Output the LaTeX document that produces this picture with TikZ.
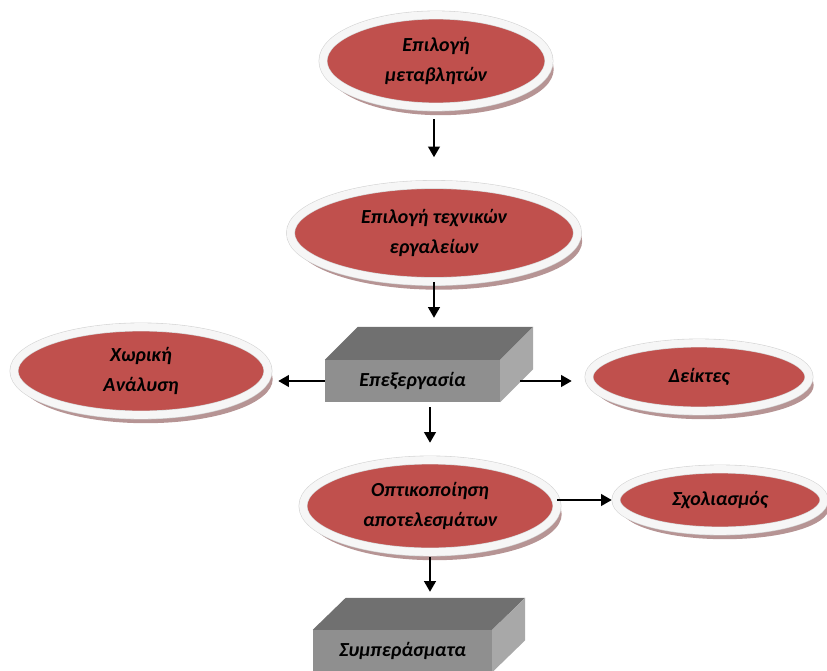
\documentclass[tikz,border=0pt]{standalone}
\usepackage{fontspec}
\setmainfont{Carlito}
\usetikzlibrary{shapes.geometric,arrows.meta,shadows}
\definecolor{ellred}{RGB}{192,80,77}
\definecolor{shadowc}{RGB}{182,148,148}
\definecolor{rimc}{RGB}{246,246,246}
\definecolor{rimedge}{RGB}{212,212,212}
\definecolor{topg}{RGB}{112,112,112}
\definecolor{frontg}{RGB}{143,143,143}
\definecolor{sideg}{RGB}{168,168,168}
\tikzset{
  ell/.style={ellipse, inner sep=0pt, fill=ellred, draw=rimedge, line width=0.5pt,
    double=rimc, double distance=6.5pt,
    drop shadow={shadow xshift=4pt, shadow yshift=-7pt, fill=shadowc, opacity=1},
    font=\fontsize{17}{25.5}\selectfont\bfseries\itshape, align=center},
  frontface/.style={rectangle, inner sep=0pt, fill=frontg,
    font=\fontsize{17}{24}\selectfont\bfseries\itshape},
  arr/.style={line width=1.4pt, -{Triangle[length=9pt,width=10pt]}}
}
\begin{document}
\begin{tikzpicture}[x=0.03cm,y=-0.03cm]
\useasboundingbox (0,0) rectangle (827,671);
% ellipses
\node[ell, minimum width=6.78cm, minimum height=2.76cm] (e1) at (436,61) {Επιλογή\\μεταβλητών};
\node[ell, minimum width=8.61cm, minimum height=2.91cm] (e2) at (434,233) {Επιλογή τεχνικών\\εργαλείων};
\node[ell, minimum width=7.62cm, minimum height=2.64cm] (e4) at (141,371) {Χωρική\\Ανάλυση};
\node[ell, minimum width=6.6cm, minimum height=2.04cm] (e5) at (699,377) {Δείκτες};
\node[ell, minimum width=7.62cm, minimum height=2.76cm] (e6) at (430,506) {Οπτικοποίηση\\αποτελεσμάτων};
\node[ell, minimum width=6.24cm, minimum height=1.86cm] (e7) at (720,500) {Σχολιασμός};
% box 1
\node[frontface, minimum width=5.25cm, minimum height=1.26cm] (proc) at (412.5,381) {Επεξεργασία};
\fill[topg] (proc.north west) -- ([shift={(33,-33)}]proc.north west) -- ([shift={(33,-33)}]proc.north east) -- (proc.north east) -- cycle;
\fill[sideg] (proc.north east) -- ([shift={(33,-33)}]proc.north east) -- ([shift={(33,-33)}]proc.south east) -- (proc.south east) -- cycle;
% box 2
\node[frontface, minimum width=5.37cm, minimum height=1.26cm] (res) at (402.5,651) {Συμπεράσματα};
\fill[topg] (res.north west) -- ([shift={(33,-32)}]res.north west) -- ([shift={(33,-32)}]res.north east) -- (res.north east) -- cycle;
\fill[sideg] (res.north east) -- ([shift={(33,-32)}]res.north east) -- ([shift={(33,-32)}]res.south east) -- (res.south east) -- cycle;
% connectors
\draw[arr, shorten <=0.36cm, shorten >=0.81cm] (e1.south -| e2.north) -- (e2.north);
\draw[arr, shorten >=1.26cm] (e2.south) -- (e2.south |- proc.north);
\draw[arr, shorten >=0.3cm] (proc.west) -- (proc.west -| e4.east);
\draw[arr, shorten <=0.6cm, shorten >=0.51cm] (proc.east) -- (proc.east -| e5.west);
\draw[arr, shorten <=0.15cm, shorten >=0.51cm] (proc.south -| e6.north) -- (e6.north);
\draw[arr, shorten >=0.12cm] (e7.west -| e6.east) -- (e7.west);
\draw[arr, shorten <=0.15cm, shorten >=1.14cm] (e6.south) -- (e6.south |- res.north);
\end{tikzpicture}
\end{document}
